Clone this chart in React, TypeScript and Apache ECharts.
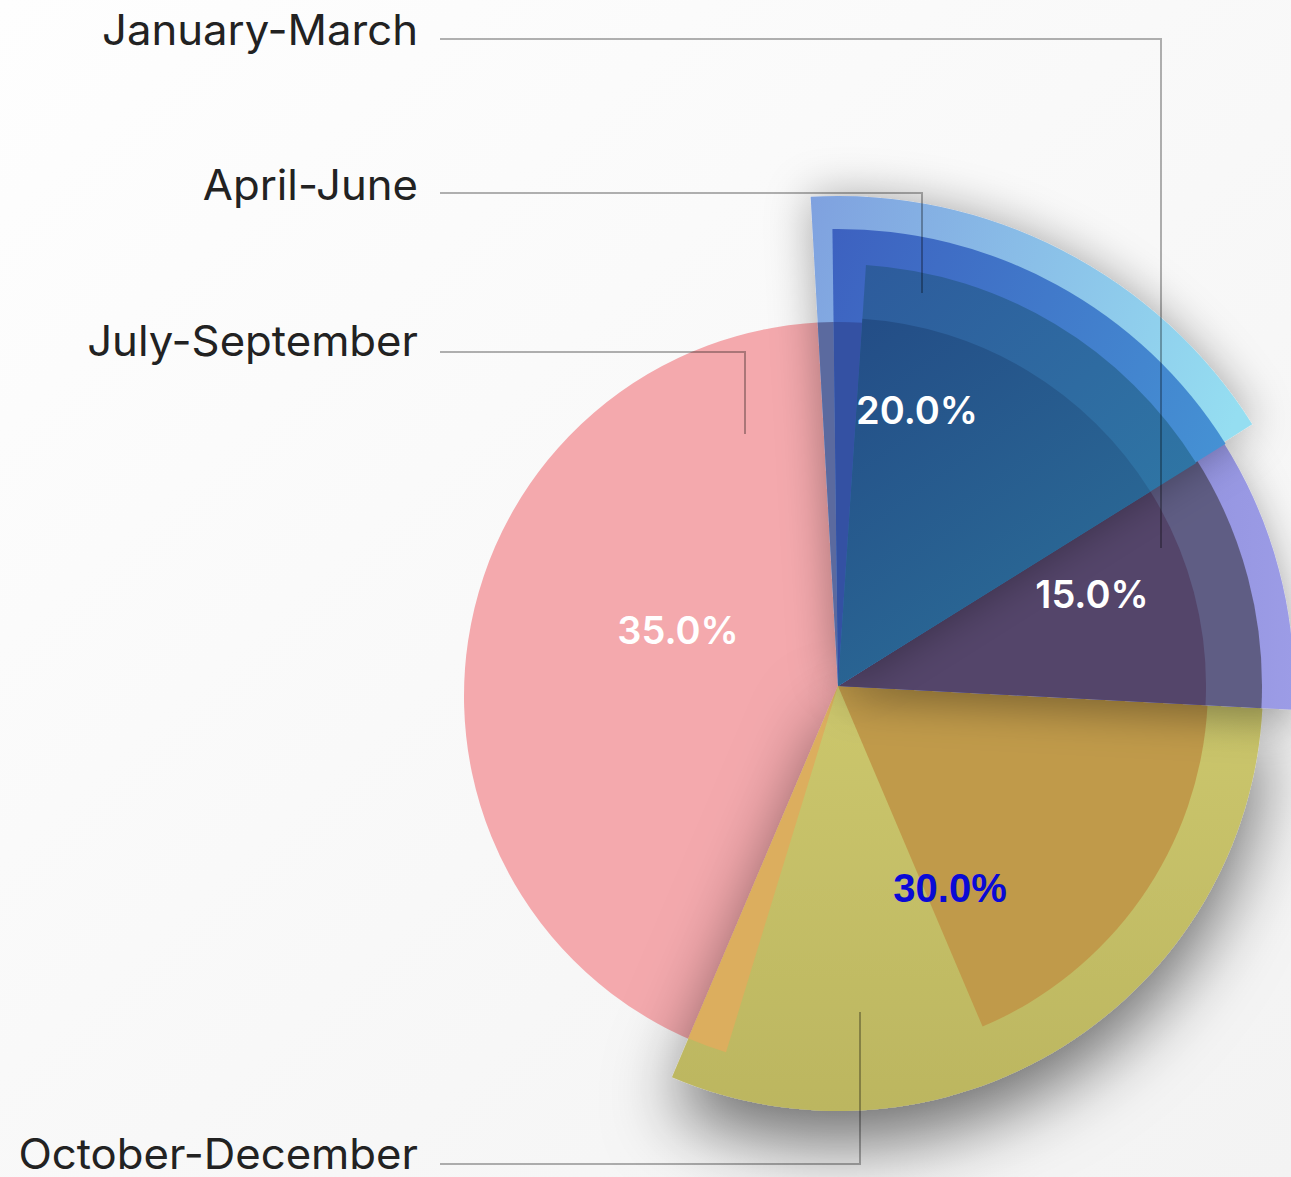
import React, { useEffect, useRef } from 'react';
import * as echarts from 'echarts';

// ---- data ----
const quarters = ['January-March', 'April-June', 'July-September', 'October-December'];
const shares = [15, 20, 35, 30];
const percentTexts = shares.map((v) => v.toFixed(1) + '%');

// ---- layout ----
const W = 1291;
const H = 1177;
const CENTER: [number, number] = [838, 686];
const PINK_CENTER: [number, number] = [838, 696];

type Layer = {
  q: number; // quarter index
  from: number; // degrees clockwise from 12 o'clock
  to: number;
  r: number;
  color: any;
  center?: [number, number];
  shadow?: { blur: number; color: string; dx?: number; dy?: number };
};

const lg = (x0: number, y0: number, x1: number, y1: number, c0: string, c1: string) =>
  new echarts.graphic.LinearGradient(x0, y0, x1, y1, [
    { offset: 0, color: c0 },
    { offset: 1, color: c1 },
  ]);

const LAYERS: Layer[] = [
  { q: 2, from: 197, to: 360, r: 374, center: PINK_CENTER, color: '#f4a9ad' },
  { q: 3, from: 93, to: 203, r: 425, color: lg(0, 0, 0, 1, '#ccc76d', '#bcb660'), shadow: { blur: 70, color: 'rgba(0,0,0,0.55)', dy: 32 } },
  { q: 3, from: 197, to: 203, r: 383, color: '#dcae5e' },
  { q: 3, from: 93, to: 157, r: 370, color: '#c09a4a' },
  { q: 0, from: 57.5, to: 93, r: 456, color: lg(0, 0, 1, 0, '#7b7bcf', '#9c9ce6'), shadow: { blur: 40, color: 'rgba(0,0,0,0.35)', dy: 12 } },
  { q: 0, from: 57.5, to: 93, r: 424, color: '#5f5d84' },
  { q: 0, from: 57.5, to: 93, r: 368, color: '#54456a' },
  { q: 1, from: -3.2, to: 57.7, r: 490, color: lg(0, 0, 1, 0.35, '#7fa1df', '#95def1'), shadow: { blur: 45, color: 'rgba(0,0,0,0.35)' } },
  { q: 1, from: -0.7, to: 58.0, r: 457, color: lg(0, 0, 1, 0.5, '#3d61c0', '#4592d4') },
  { q: 1, from: 3.8, to: 58.1, r: 422, color: lg(0, 0, 0.8, 1, '#2d5a9c', '#2f7ca6') },
  { q: 1, from: -3.2, to: -0.7, r: 364, color: '#5b6a9f' },
  { q: 1, from: -0.7, to: 3.8, r: 364, color: '#3451a3' },
  { q: 1, from: 3.8, to: 58.1, r: 368, color: lg(0, 0, 0.6, 1, '#234c86', '#2b6c97') },
];

// name labels + leader lines (annotation positions)
const nameRight = 418;
const nameY = [29.5, 184.5, 340.5, 1153];
const leaderLines: number[][][] = [
  [[440, 39], [1161, 39], [1161, 548]],
  [[440, 193], [922, 193], [922, 293]],
  [[440, 352], [745, 352], [745, 434]],
  [[440, 1164], [860, 1164], [860, 1012]],
];
// percentage label centres
const pctPos: number[][] = [
  [1092, 594],
  [917, 410],
  [678, 630],
  [950, 888],
];
const pctColor = ['#ffffff', '#ffffff', '#ffffff', '#0a0ad6'];
const pctFont = ['Inter', 'Inter', 'Inter', '"Liberation Sans", Arial, sans-serif'];
const pctWeight = [600, 600, 600, 700];

export default function App() {
  const ref = useRef<HTMLDivElement>(null);

  useEffect(() => {
    document.body.style.margin = '0';
    if (!ref.current) return;
    const chart = echarts.init(ref.current, null, { renderer: 'svg' });

    const series = LAYERS.map((l, i) => ({
      type: 'pie',
      name: quarters[l.q] + ' ' + i,
      center: l.center || CENTER,
      radius: [0, l.r],
      startAngle: 90 - l.from,
      endAngle: 90 - l.to,
      clockwise: true,
      silent: true,
      z: 2 + i,
      label: { show: false },
      labelLine: { show: false },
      emphasis: { disabled: true },
      data: [
        {
          name: quarters[l.q],
          value: shares[l.q],
          itemStyle: {
            color: l.color,
            borderWidth: 0,
            shadowBlur: l.shadow ? l.shadow.blur : 0,
            shadowColor: l.shadow ? l.shadow.color : 'transparent',
            shadowOffsetX: l.shadow?.dx ?? 0,
            shadowOffsetY: l.shadow?.dy ?? 0,
          },
        },
      ],
    }));

    const elements: any[] = [
      {
        type: 'rect',
        z: -10,
        silent: true,
        shape: { x: 0, y: 0, width: W, height: H },
        style: { fill: lg(0, 0, 1, 1, '#fefefe', '#f3f3f3') },
      },
    ];
    leaderLines.forEach((pts) => {
      elements.push({
        type: 'polyline',
        z: 50,
        silent: true,
        shape: { points: pts },
        style: { stroke: 'rgba(0,0,0,0.3)', lineWidth: 2, fill: null },
      });
    });
    quarters.forEach((q, i) => {
      elements.push({
        type: 'text',
        z: 60,
        silent: true,
        x: nameRight,
        y: nameY[i],
        scaleX: 1.04,
        style: {
          text: q,
          x: 0,
          y: 0,
          align: 'right',
          verticalAlign: 'middle',
          fill: '#222222',
          fontSize: 42,
          fontFamily: 'Inter',
          fontWeight: 400,
        },
      });
    });
    percentTexts.forEach((t, i) => {
      elements.push({
        type: 'text',
        z: 60,
        silent: true,
        style: {
          text: t,
          x: pctPos[i][0],
          y: pctPos[i][1],
          align: 'center',
          verticalAlign: 'middle',
          fill: pctColor[i],
          fontSize: i === 3 ? 40 : 38,
          fontFamily: pctFont[i],
          fontWeight: pctWeight[i],
        },
      });
    });

    chart.setOption({
      animation: false,
      backgroundColor: '#fafafa',
      tooltip: { show: false },
      graphic: { elements },
      series,
    });

    return () => chart.dispose();
  }, []);

  return <div ref={ref} style={{ width: W, height: H, display: 'block' }} />;
}
